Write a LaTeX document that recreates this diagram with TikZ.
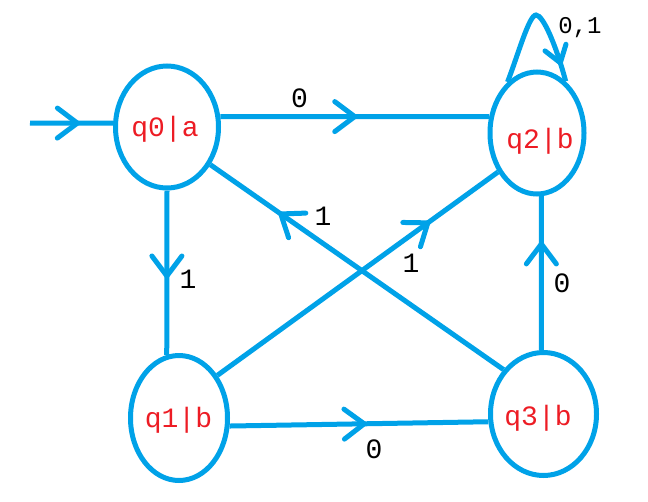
\documentclass[tikz,border=0pt]{standalone}
\usepackage{fontspec}
\setmainfont{Liberation Mono}
\usetikzlibrary{shapes.geometric,decorations.markings}
\definecolor{paintblue}{RGB}{0,162,232}
\definecolor{paintred}{RGB}{237,28,36}
\tikzset{
  st/.style={ellipse, draw=paintblue, line width=5pt, inner sep=0pt},
  stlabel/.style={text=paintred, font=\fontsize{28}{30}\selectfont, anchor=base, inner sep=0pt},
  edgelabel/.style={text=black, font=\fontsize{28}{30}\selectfont, anchor=base, inner sep=0pt},
  conn/.style={draw=paintblue, line width=5pt},
  midarrow/.style={postaction={decorate}, decoration={markings, mark=at position #1 with {\draw[paintblue, line width=5pt, line cap=round, line join=miter] (-20pt,15pt) -- (0pt,0pt) -- (-20pt,-15pt);}}},
  smallarrow/.style={postaction={decorate}, decoration={markings, mark=at position #1 with {\draw[paintblue, line width=5pt, line cap=round, line join=miter] (-16pt,11pt) -- (0pt,0pt) -- (-16pt,-11pt);}}},
}
\begin{document}
\begin{tikzpicture}[x=1pt,y=-1pt]
\fill[white] (0,0) rectangle (648,501);
\useasboundingbox (0,0) rectangle (648,501);
% states
\node[st, minimum width=103pt, minimum height=122pt] (q0) at (167,127) {};
\node[st, minimum width=94pt, minimum height=122pt] (q2) at (537,133) {};
\node[st, minimum width=97pt, minimum height=125pt] (q1) at (179,418) {};
\node[st, minimum width=106pt, minimum height=123pt] (q3) at (543.5,414) {};
% state texts
\node[stlabel] (q0t) at (165,136) {q0|a};
\node[stlabel] (q2t) at (540,148) {q2|b};
\node[stlabel] (q1t) at (178.5,427) {q1|b};
\node[stlabel] (q3t) at (538,425) {q3|b};
% connectors
\coordinate (init) at (30,123);
\draw[conn, midarrow=0.57] (init) -- (q0.176);
\draw[conn, midarrow=0.5] (q0.11) -- (q2.161);
\draw[conn, midarrow=0.52] (q0.270) -- (q1.101);
\draw[conn, midarrow=0.76] (q3.132) -- (q0.-41);
\draw[conn, midarrow=0.75] (q1.48) -- (q2.225);
\draw[conn, midarrow=0.69] (q3.92) -- (q2.274);
\draw[conn, midarrow=0.52] (q1.-9) -- (q3.188);
\draw[conn, smallarrow=0.87] (q2.120) .. controls (518,55) and (529,15) .. (536,15) .. controls (543,15) and (556,45) .. (q2.61);
% labels
\node[edgelabel] (l02) at (299.5,107) {0};
\node[edgelabel] (l01) at (188,288) {1};
\node[edgelabel] (l30) at (323,225) {1};
\node[edgelabel] (l12) at (411,272) {1};
\node[edgelabel] (l32) at (562,292) {0};
\node[edgelabel] (l13) at (374,458) {0};
\node[edgelabel, font=\fontsize{24}{26}\selectfont] (l22) at (580,33) {0,1};
\end{tikzpicture}
\end{document}
